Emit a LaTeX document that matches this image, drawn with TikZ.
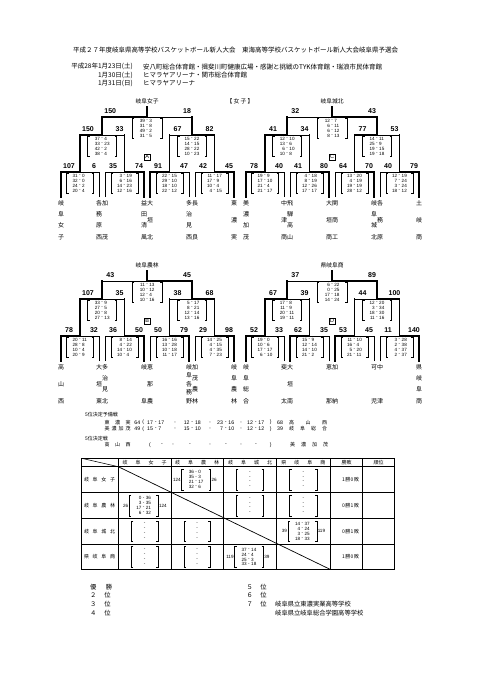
\documentclass[tikz,border=0pt]{standalone}
\usepackage{fontspec}
\setmainfont{Noto Sans CJK JP}
\newfontfamily\numf{Liberation Sans}
\usetikzlibrary{calc}
\newcounter{nid}
\tikzset{
  lthin/.style={line width=0.55pt},
  lwin/.style={line width=1.7pt, line cap=rect},
  tb/.style={line width=0.8pt},
  sc/.style={font=\numf\bfseries\fontsize{7}{7}\selectfont, inner sep=0pt},
  ss/.style={font=\numf\fontsize{4.6}{4.6}\selectfont, inner sep=0pt},
  nm/.style={font=\fontsize{6}{6}\selectfont, inner sep=0pt},
  tt/.style={font=\fontsize{5.8}{5.8}\selectfont, inner sep=0pt},
  hd/.style={font=\fontsize{6.5}{6.5}\selectfont, inner sep=0pt},
  ft/.style={font=\fontsize{6.3}{6.3}\selectfont, inner sep=0pt, anchor=west},
  sm/.style={font=\fontsize{5}{5}\selectfont, inner sep=0pt},
  smn/.style={font=\numf\fontsize{5.2}{5.2}\selectfont, inner sep=0pt},
  lab/.style={draw, line width=0.5pt, font=\numf\fontsize{5.5}{5.5}\selectfont, inner sep=0.6pt, minimum width=6.5pt, minimum height=6pt},
  every node/.append code={\stepcounter{nid}\pgfkeysalso{/tikz/name=n\arabic{nid}}},
}
% match: xl, xr, y of horizontal, y of leg bottoms, winner side L/R, left score, right score, loser leg style
\newcommand\Mt[8]{%
  \pgfmathsetmacro\mxc{(#1+#2)/2}%
  \if#5L%
    \draw[lwin] (#1,#4) -- (#1,#3) -- (\mxc,#3);
    \draw[#8] (#2,#4) -- (#2,#3);
    \draw[lthin] (#2,#3) -- (\mxc,#3);
  \else
    \draw[lwin] (#2,#4) -- (#2,#3) -- (\mxc,#3);
    \draw[#8] (#1,#4) -- (#1,#3);
    \draw[lthin] (#1,#3) -- (\mxc,#3);
  \fi
  \node[sc] at ({#1+8},{#3-6}) {#6};
  \node[sc] at ({#2-5},{#3-6}) {#7};
}
% set-score block: xc, ytop, width, list a/b
\newcommand\Blk[4]{%
  \draw[lthin] ({#1-#3/2+2},#2) -- ({#1-#3/2},#2) -- ({#1-#3/2},{#2+20}) -- ({#1-#3/2+2},{#2+20});
  \draw[lthin] ({#1+#3/2-2},#2) -- ({#1+#3/2},#2) -- ({#1+#3/2},{#2+20}) -- ({#1+#3/2-2},{#2+20});
  \foreach \a/\b [count=\i] in {#4} {
    \node[ss,anchor=east] at ({#1-2},{#2-2.5+\i*5}) {\a};
    \node[ss] at (#1,{#2-2.5+\i*5}) {-};
    \node[ss,anchor=west] at ({#1+2},{#2-2.5+\i*5}) {\b};
  }
}
% vertical name: x, ytop, count, list
\newcommand\Nm[4]{%
  \foreach \c [count=\i] in {#4} {
    \pgfmathsetmacro\nmy{#2+(\i-1)*34/max(#3-1,1)}
    \node[nm] at (#1,\nmy) {\c};
  }
}
\newcommand\Frame[2]{%
  \draw[lwin] (147.125,117) -- (147.125,107);
  \node[tt] at (147.125,101) {#1};
  \node[lab] at (147.125,157) {#2};
}
% table cells
\newcommand\GCell[7]{%
  \pgfmathsetmacro\gcx{(#1+#2)/2-1}%
  \draw[lthin] ({\gcx-12.5},{#3+2.5}) -- ({\gcx-14.5},{#3+2.5}) -- ({\gcx-14.5},{#4-2.5}) -- ({\gcx-12.5},{#4-2.5});
  \draw[lthin] ({\gcx+12.5},{#3+2.5}) -- ({\gcx+14.5},{#3+2.5}) -- ({\gcx+14.5},{#4-2.5}) -- ({\gcx+12.5},{#4-2.5});
  \node[ss,anchor=east] at ({\gcx-15.2},{(#3+#4)/2}) {#5};
  \node[ss,anchor=west] at ({\gcx+15.2},{(#3+#4)/2}) {#6};
  \foreach \a/\b [count=\i] in {#7} {
    \node[ss,anchor=east] at ({\gcx-2},{#3+0.8+\i*4.9}) {\a};
    \node[ss] at (\gcx,{#3+0.8+\i*4.9}) {-};
    \node[ss,anchor=west] at ({\gcx+2},{#3+0.8+\i*4.9}) {\b};
  }
}
\newcommand\ECell[4]{%
  \draw[lthin] ({#1+15},{#3+2.5}) -- ({#1+13},{#3+2.5}) -- ({#1+13},{#4-2.5}) -- ({#1+15},{#4-2.5});
  \draw[lthin] ({#2-15},{#3+2.5}) -- ({#2-13},{#3+2.5}) -- ({#2-13},{#4-2.5}) -- ({#2-15},{#4-2.5});
  \foreach \i in {1,...,4} {\node[ss] at ({(#1+#2)/2},{#3+0.8+\i*4.9}) {-};}
}
\newcommand\Sc[4]{%
  \node[smn,anchor=east] at ({#1-2.5},#2) {#3};
  \node[smn] at (#1,#2) {-};
  \node[smn,anchor=west] at ({#1+2.5},#2) {#4};
}
\begin{document}
\begin{tikzpicture}[x=1pt,y=-1pt]
\useasboundingbox (0,0) rectangle (481,680);
\fill[white] (0,0) rectangle (481,680);

% ---------- header ----------
\node[hd,anchor=west] at (73,50) {平成２７年度岐阜県高等学校バスケットボール新人大会　東海高等学校バスケットボール新人大会岐阜県予選会};
\node[hd,anchor=east] at (133,66.7) {平成28年1月23日(土)};
\node[hd,anchor=west] at (143,66.7) {安八町総合体育館・揖斐川町健康広場・感謝と挑戦のTYK体育館・瑞浪市民体育館};
\node[hd,anchor=east] at (133,75.5) {1月30日(土)};
\node[hd,anchor=west] at (143,75.5) {ヒマラヤアリーナ・関市総合体育館};
\node[hd,anchor=east] at (133,83.5) {1月31日(日)};
\node[hd,anchor=west] at (143,83.5) {ヒマラヤアリーナ};
\node[tt] at (240,101) {\makebox[27pt][s]{【\hfill 女\hfill 子\hfill 】}};

% ---------- bracket A ----------
\begin{scope}
\Mt{61}{99}{172}{197}{L}{107}{6}{lthin}
\Mt{105}{144}{172}{197}{R}{35}{74}{lthin}
\Mt{150}{189}{172}{197}{L}{91}{47}{lthin}
\Mt{195}{234}{172}{197}{R}{42}{45}{lthin}
\Mt{80}{124.5}{135}{172}{L}{150}{33}{lwin}
\Mt{169.5}{214.5}{135}{172}{R}{67}{82}{lwin}
\Mt{102.25}{192}{117}{135}{L}{150}{18}{lwin}
\Frame{岐阜女子}{A}
\Blk{147.125}{118}{30}{39/3,31/8,49/2,31/5}
\Blk{102.25}{136.5}{29}{37/4,33/23,42/2,38/4}
\Blk{192}{136.5}{29}{15/22,14/15,28/22,10/23}
\Blk{80}{173}{27}{31/0,32/0,24/2,20/4}
\Blk{124.5}{173}{27}{3/19,6/16,14/23,12/16}
\Blk{169.5}{173}{27}{22/15,29/10,18/10,22/12}
\Blk{214.5}{173}{27}{11/17,17/9,10/4,4/15}
\Nm{61}{203}{4}{岐,阜,女,子}
\Nm{99}{203}{4}{各,務,原,西}
\Nm{105}{203}{2}{加,茂}
\Nm{144}{203}{4}{益,田,清,風}
\Nm{150}{203}{3}{大,垣,北}
\Nm{189}{203}{4}{多,治,見,西}
\Nm{195}{203}{2}{長,良}
\Nm{234}{203}{3}{東,濃,実}
\end{scope}

% ---------- bracket C ----------
\begin{scope}[shift={(185,0)}]
\Mt{61}{99}{172}{197}{L}{78}{40}{lthin}
\Mt{105}{144}{172}{197}{R}{41}{80}{lthin}
\Mt{150}{189}{172}{197}{R}{64}{70}{lthin}
\Mt{195}{234}{172}{197}{R}{40}{79}{lthin}
\Mt{80}{124.5}{135}{172}{L}{41}{34}{lwin}
\Mt{169.5}{214.5}{135}{172}{L}{77}{53}{lwin}
\Mt{102.25}{192}{117}{135}{R}{32}{43}{lwin}
\Frame{岐阜城北}{C}
\Blk{147.125}{118}{30}{12/7,6/11,6/12,8/13}
\Blk{102.25}{136.5}{29}{12/10,13/6,6/10,10/8}
\Blk{192}{136.5}{29}{14/11,25/9,19/15,19/18}
\Blk{80}{173}{27}{19/9,17/10,21/4,21/17}
\Blk{124.5}{173}{27}{4/18,8/19,12/26,17/17}
\Blk{169.5}{173}{27}{13/20,4/19,19/19,28/12}
\Blk{214.5}{173}{27}{12/19,7/24,3/24,18/12}
\Nm{61}{203}{4}{美,濃,加,茂}
\Nm{99}{203}{3}{中,津,商}
\Nm{105}{203}{4}{飛,騨,高,山}
\Nm{144}{203}{3}{大,垣,商}
\Nm{150}{203}{3}{関,商,工}
\Nm{189}{203}{4}{岐,阜,城,北}
\Nm{195}{203}{3}{各,務,原}
\Nm{234}{203}{3}{土,岐,商}
\end{scope}

% ---------- bracket B ----------
\begin{scope}[shift={(0,164)}]
\Mt{61}{99}{172}{197}{L}{78}{32}{lthin}
\Mt{105}{144}{172}{197}{R}{36}{50}{lthin}
\Mt{150}{189}{172}{197}{R}{50}{79}{lthin}
\Mt{195}{234}{172}{197}{R}{29}{98}{lthin}
\Mt{80}{124.5}{135}{172}{L}{107}{35}{lwin}
\Mt{169.5}{214.5}{135}{172}{R}{38}{68}{lwin}
\Mt{102.25}{192}{117}{135}{R}{43}{45}{lwin}
\Frame{岐阜農林}{B}
\Blk{147.125}{118}{30}{11/13,10/12,12/4,10/16}
\Blk{102.25}{136.5}{29}{33/9,27/5,20/8,27/13}
\Blk{192}{136.5}{29}{5/17,8/21,12/14,13/16}
\Blk{80}{173}{27}{20/11,28/8,10/4,20/9}
\Blk{124.5}{173}{27}{8/14,4/22,14/10,10/4}
\Blk{169.5}{173}{27}{16/16,13/28,10/18,11/17}
\Blk{214.5}{173}{27}{14/25,4/15,4/35,7/23}
\Nm{61}{203}{3}{高,山,西}
\Nm{99}{203}{3}{大,垣,東}
\Nm{105}{203}{4}{多,治,見,北}
\Nm{144}{203}{2}{岐,阜}
\Nm{150}{203}{3}{恵,那,農}
\Nm{189}{203}{5}{岐,阜,各,務,野}
\Nm{195}{203}{4}{加,茂,農,林}
\Nm{234}{203}{4}{岐,阜,農,林}
\end{scope}

% ---------- bracket D ----------
\begin{scope}[shift={(185,164)}]
\Mt{61}{99}{172}{197}{L}{52}{33}{lthin}
\Mt{105}{144}{172}{197}{L}{62}{35}{lthin}
\Mt{150}{189}{172}{197}{L}{53}{45}{lthin}
\Mt{195}{234}{172}{197}{R}{11}{140}{lthin}
\Mt{80}{124.5}{135}{172}{L}{67}{39}{lwin}
\Mt{169.5}{214.5}{135}{172}{R}{44}{100}{lwin}
\Mt{102.25}{192}{117}{135}{R}{37}{89}{lwin}
\Frame{県岐阜商}{D}
\Blk{147.125}{118}{30}{6/22,0/25,17/18,14/24}
\Blk{102.25}{136.5}{29}{17/8,11/9,20/11,19/11}
\Blk{192}{136.5}{29}{12/20,3/34,18/30,11/16}
\Blk{80}{173}{27}{19/0,10/6,17/17,6/10}
\Blk{124.5}{173}{27}{15/9,12/14,14/10,21/2}
\Blk{169.5}{173}{27}{11/10,16/4,5/20,21/11}
\Blk{214.5}{173}{27}{3/28,2/38,4/37,2/37}
\Nm{61}{203}{4}{岐,阜,総,合}
\Nm{99}{203}{2}{斐,太}
\Nm{105}{203}{3}{大,垣,南}
\Nm{144}{203}{2}{恵,那}
\Nm{150}{203}{2}{加,納}
\Nm{189}{203}{2}{可,児}
\Nm{195}{203}{2}{中,津}
\Nm{234}{203}{4}{県,岐,阜,商}
\end{scope}

% ---------- 5th place ----------
\node[sm,anchor=west] at (85,415) {5位決定予備戦};
\node[sm] at (117.5,422.5) {\makebox[26pt][s]{東\hfill 濃\hfill 実}};
\node[smn] at (137.3,422.5) {64};
\node[smn] at (143.3,422.5) {(};
\Sc{155.7}{422.5}{17}{17}
\node[smn] at (175,422.5) {,};
\Sc{192.3}{422.5}{12}{18}
\node[smn] at (210,422.5) {,};
\Sc{225.7}{422.5}{23}{16}
\node[smn] at (241.2,422.5) {,};
\Sc{255.7}{422.5}{12}{17}
\node[smn] at (270.7,422.5) {)};
\node[smn] at (280,422.5) {68};
\node[sm] at (308,422.5) {\makebox[38pt][s]{高\hfill 山\hfill 西}};

\node[sm] at (117.5,429) {\makebox[26pt][s]{美\hfill 濃\hfill 加\hfill 茂}};
\node[smn] at (137.3,429) {49};
\node[smn] at (143.3,429) {(};
\Sc{155.7}{429}{15}{7}
\node[smn] at (175,429) {,};
\Sc{192.3}{429}{15}{10}
\node[smn] at (210,429) {,};
\Sc{225.7}{429}{7}{10}
\node[smn] at (241.2,429) {,};
\Sc{255.7}{429}{12}{12}
\node[smn] at (270.7,429) {)};
\node[smn] at (280,429) {39};
\node[sm] at (308,429) {\makebox[38pt][s]{岐\hfill 阜\hfill 総\hfill 合}};

\node[sm,anchor=west] at (85,438.3) {5位決定戦};
\node[sm] at (117.5,445) {\makebox[26pt][s]{高\hfill 山\hfill 西}};
\node[smn] at (150,445) {(};
\node[smn] at (162,445) {-};
\node[smn] at (173,445) {,};
\node[smn] at (190,445) {-};
\node[smn] at (210,445) {,};
\node[smn] at (226,445) {-};
\node[smn] at (241.2,445) {,};
\node[smn] at (256,445) {-};
\node[smn] at (270.7,445) {)};
\node[sm] at (309,445) {\makebox[38pt][s]{美\hfill 濃\hfill 加\hfill 茂}};

% ---------- league table ----------
\draw[tb] (81.7,458.3) rectangle (394.3,569.3);
\foreach \xx in {118.3,171,223.3,276.7,330,362.7} {\draw[tb] (\xx,458.3) -- (\xx,569.3);}
\foreach \yy in {466.7,492.7,518.3,544} {\draw[tb] (81.7,\yy) -- (394.3,\yy);}
\draw[lthin] (81.7,458.3) -- (118.3,466.7);
\draw[line width=0.7pt] (118.3,466.7) -- (330,569.3);

\node[sm] at (144.7,462.5) {\makebox[44pt][s]{岐\hfill 阜\hfill 女\hfill 子}};
\node[sm] at (197.2,462.5) {\makebox[44pt][s]{岐\hfill 阜\hfill 農\hfill 林}};
\node[sm] at (250,462.5) {\makebox[44pt][s]{岐\hfill 阜\hfill 城\hfill 北}};
\node[sm] at (303.3,462.5) {\makebox[44pt][s]{県\hfill 岐\hfill 阜\hfill 商}};
\node[sm] at (346.5,462.5) {勝敗};
\node[sm] at (378.5,462.5) {順位};

\node[sm] at (99.5,479.7) {\makebox[31pt][s]{岐\hfill 阜\hfill 女\hfill 子}};
\node[sm] at (99.5,505.5) {\makebox[31pt][s]{岐\hfill 阜\hfill 農\hfill 林}};
\node[sm] at (99.5,531.2) {\makebox[31pt][s]{岐\hfill 阜\hfill 城\hfill 北}};
\node[sm] at (99.5,556.7) {\makebox[31pt][s]{県\hfill 岐\hfill 阜\hfill 商}};

\node[sm] at (350.5,479.7) {\makebox[17pt][s]{1\hfill 勝\hfill 0\hfill 敗}};
\node[sm] at (350.5,505.5) {\makebox[17pt][s]{0\hfill 勝\hfill 1\hfill 敗}};
\node[sm] at (350.5,531.2) {\makebox[17pt][s]{0\hfill 勝\hfill 1\hfill 敗}};
\node[sm] at (350.5,556.7) {\makebox[17pt][s]{1\hfill 勝\hfill 0\hfill 敗}};

\GCell{171}{223.3}{466.7}{492.7}{124}{26}{36/0,35/3,21/17,32/6}
\GCell{118.3}{171}{492.7}{518.3}{26}{124}{0/36,3/35,17/21,6/32}
\GCell{276.7}{330}{518.3}{544}{39}{119}{14/37,4/24,3/25,18/33}
\GCell{223.3}{276.7}{544}{569.3}{119}{39}{37/14,24/4,25/3,33/18}
\ECell{223.3}{276.7}{466.7}{492.7}
\ECell{276.7}{330}{466.7}{492.7}
\ECell{223.3}{276.7}{492.7}{518.3}
\ECell{276.7}{330}{492.7}{518.3}
\ECell{118.3}{171}{518.3}{544}
\ECell{171}{223.3}{518.3}{544}
\ECell{118.3}{171}{544}{569.3}
\ECell{171}{223.3}{544}{569.3}

% ---------- footer ----------
\node[ft] at (90,586.7) {\makebox[22pt][s]{優\hfill 勝}};
\node[ft] at (90,595.3) {\makebox[20.5pt][s]{２\hfill 位}};
\node[ft] at (90,604) {\makebox[20.5pt][s]{３\hfill 位}};
\node[ft] at (90,612.7) {\makebox[20.5pt][s]{４\hfill 位}};
\node[ft] at (246.5,586.7) {\makebox[20pt][s]{５\hfill 位}};
\node[ft] at (246.5,595.3) {\makebox[20pt][s]{６\hfill 位}};
\node[ft] at (246.5,604) {\makebox[20pt][s]{７\hfill 位}};
\node[ft] at (275,604) {岐阜県立東濃実業高等学校};
\node[ft] at (275,612.7) {岐阜県立岐阜総合学園高等学校};
\end{tikzpicture}
\end{document}
